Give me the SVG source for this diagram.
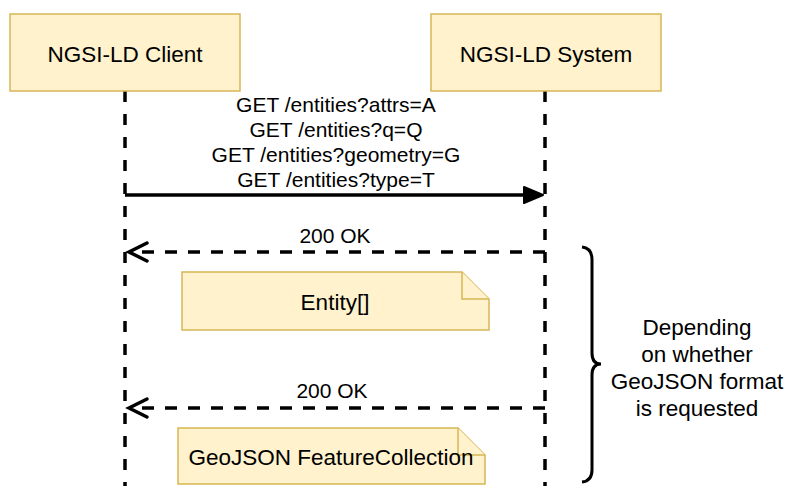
<svg xmlns="http://www.w3.org/2000/svg" width="787" height="486" viewBox="0 0 787 486">
<defs>
<style>
.box{fill:#fff2cc;stroke:#d6b656;stroke-width:1.5}
.t{font-family:"Liberation Sans",Arial,Helvetica,sans-serif;fill:#000;text-anchor:middle}
.big{font-size:22.5px}
.msg{font-size:21px}
.life{fill:none;stroke:#000;stroke-width:3.5;stroke-dasharray:11 12}
.ret{fill:none;stroke:#000;stroke-width:3.5;stroke-dasharray:12 11}
.solid{fill:none;stroke:#000;stroke-width:3.5}
</style>
</defs>
<rect width="787" height="486" fill="#fff"/>
<g id="connectors">
<path class="life" d="M125,91 V486"/>
<path class="life" d="M545,91 V486"/>
<path class="solid" d="M125,195 H527"/>
<polygon points="524,187 543,195 524,203" fill="#000" stroke="#000" stroke-width="2" stroke-linejoin="round"/>
<path class="ret" d="M545,252 H130"/>
<path class="solid" stroke-linecap="round" d="M147,243 L129,252 L147,261"/>
<path class="ret" d="M545,408 H130"/>
<path class="solid" stroke-linecap="round" d="M147,399 L129,408 L147,417"/>
<text class="t msg" x="335" y="243">200 OK</text>
<text class="t msg" x="332" y="398">200 OK</text>
<text class="t msg" x="336" y="111.7">GET /entities?attrs=A</text>
<text class="t msg" x="336" y="136.7">GET /entities?q=Q</text>
<text class="t msg" x="336" y="161.7">GET /entities?geometry=G</text>
<text class="t msg" x="336" y="186.7">GET /entities?type=T</text>
</g>
<g id="client">
<rect class="box" x="10" y="14" width="230" height="77"/>
<text class="t big" x="125" y="61.5">NGSI-LD Client</text>
</g>
<g id="system">
<rect class="box" x="431" y="14" width="230" height="77"/>
<text class="t big" x="546" y="61.5">NGSI-LD System</text>
</g>
<g id="note-entity">
<path class="box" d="M182,272 H462 L489,299 V330 H182 Z"/>
<path class="box" d="M462,272 V299 H489" fill="none"/>
<text class="t big" x="335" y="310">Entity[]</text>
</g>
<g id="note-geojson">
<path class="box" d="M178,428 H458 L485,455 V484 H178 Z"/>
<path class="box" d="M458,428 V455 H485" fill="none"/>
<text class="t big" x="331" y="465">GeoJSON FeatureCollection</text>
</g>
<g id="brace">
<path fill="none" stroke="#000" stroke-width="3" d="M582,247 Q592,248 592,260 L592,353 Q592,364 601,364 Q592,364 592,375 L592,470 Q592,481 582,482"/>
<text class="t big" x="697" y="335">Depending</text>
<text class="t big" x="697" y="362">on whether</text>
<text class="t big" x="697" y="389">GeoJSON format</text>
<text class="t big" x="697" y="416">is requested</text>
</g>
</svg>
